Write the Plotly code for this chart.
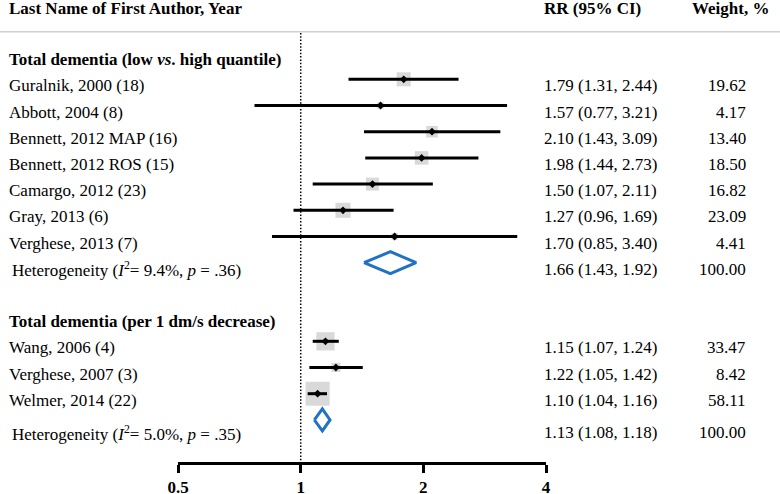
import math
import plotly.graph_objects as go

# ---------------- data ----------------
header_label = "Last Name of First Author, Year"
header_rr = "RR (95% CI)"
header_w = "Weight, %"

group1_title = "Total dementia (low <i>vs</i>. high quantile)"
studies1 = ["Guralnik, 2000 (18)", "Abbott, 2004 (8)", "Bennett, 2012 MAP (16)",
            "Bennett, 2012 ROS (15)", "Camargo, 2012 (23)", "Gray, 2013 (6)",
            "Verghese, 2013 (7)"]
rr1 = [1.79, 1.57, 2.10, 1.98, 1.50, 1.27, 1.70]
lo1 = [1.31, 0.77, 1.43, 1.44, 1.07, 0.96, 0.85]
hi1 = [2.44, 3.21, 3.09, 2.73, 2.11, 1.69, 3.40]
w1 = [19.62, 4.17, 13.40, 18.50, 16.82, 23.09, 4.41]
pooled1 = [1.66, 1.43, 1.92]
pooled_w1 = 100.00
i2_1, p_1 = "9.4%", ".36"

group2_title = "Total dementia (per 1 dm/s decrease)"
studies2 = ["Wang, 2006 (4)", "Verghese, 2007 (3)", "Welmer, 2014 (22)"]
rr2 = [1.15, 1.22, 1.10]
lo2 = [1.07, 1.05, 1.04]
hi2 = [1.24, 1.42, 1.16]
w2 = [33.47, 8.42, 58.11]
pooled2 = [1.13, 1.08, 1.18]
pooled_w2 = 100.00
i2_2, p_2 = "5.0%", ".35"

tick_vals = [0.5, 1, 2, 4]
tick_text = ["0.5", "1", "2", "4"]

# ---------------- layout helpers ----------------
W, H = 780, 494
Y0, STEP = 79.3, 26.2
TXT = 6.5
AXIS_Y = 463
X_LEFT, X_RIGHT = 178.1, 546.0

def row(i):
    return Y0 + i * STEP

FONT = "Liberation Serif"
FS = 17
BLUE = "#2272c3"
GRAY = "#c9c9c9"

rows1 = [row(i) for i in range(len(studies1))]
het1_row = row(7)
title2_row = row(9)
rows2 = [row(10 + i) for i in range(len(studies2))]
het2_row = row(13)

fig = go.Figure()

# dotted reference line at RR = 1
fig.add_trace(go.Scatter(x=[1, 1], y=[33, AXIS_Y], mode="lines",
                         line=dict(color="black", width=1.5, dash="1.5px,1.8px"),
                         hoverinfo="skip", showlegend=False))

all_rr = rr1 + rr2
all_lo = lo1 + lo2
all_hi = hi1 + hi2
all_w = w1 + w2
all_y = rows1 + rows2

# weight squares (area proportional to weight)
fig.add_trace(go.Scatter(x=all_rr, y=all_y, mode="markers",
                         marker=dict(symbol="square", color=GRAY,
                                     size=[3.15 * math.sqrt(w) for w in all_w],
                                     line=dict(width=0)),
                         hoverinfo="skip", showlegend=False))
# confidence intervals
cx, cy = [], []
for l, h, y in zip(all_lo, all_hi, all_y):
    cx += [l, h, None]
    cy += [y, y, None]
fig.add_trace(go.Scatter(x=cx, y=cy, mode="lines",
                         line=dict(color="black", width=3),
                         hoverinfo="skip", showlegend=False))
# point estimates
fig.add_trace(go.Scatter(x=all_rr, y=all_y, mode="markers",
                         marker=dict(symbol="diamond", color="black", size=6),
                         hoverinfo="skip", showlegend=False))

# pooled diamonds
for (est, l, h), yc in [(pooled1, het1_row), (pooled2, het2_row)]:
    hh = 11
    fig.add_trace(go.Scatter(x=[l, est, h, est, l], y=[yc, yc - hh, yc, yc + hh, yc],
                             mode="lines", fill="toself", fillcolor="white",
                             line=dict(color=BLUE, width=3),
                             hoverinfo="skip", showlegend=False))

# ---------------- text ----------------
ann = []

def txt(x, y, s, anchor="left", bold=False):
    ann.append(dict(x=x / W, xref="paper", y=y, yref="y", text=s, showarrow=False,
                    xanchor=anchor, yanchor="middle",
                    font=dict(family=FONT, size=FS, color="black",
                              weight="bold" if bold else "normal")))

LX, HX, RRX, WX = 6.5, 10, 541.5, 748

txt(LX, 8, header_label, bold=True)
txt(RRX, 8, header_rr, bold=True)
txt(690, 8, header_w, bold=True)

txt(LX, row(-1) + TXT, group1_title, bold=True)
for s, r, l, h, w, y in zip(studies1, rr1, lo1, hi1, w1, rows1):
    txt(LX, y + TXT, s)
    txt(RRX, y + TXT, f"{r:.2f} ({l:.2f}, {h:.2f})")
    txt(WX, y + TXT, f"{w:.2f}", anchor="right")
txt(HX, het1_row + TXT, f"Heterogeneity (<i>I</i><sup>2</sup>= {i2_1}, <i>p</i> = {p_1})")
txt(RRX, het1_row + TXT, f"{pooled1[0]:.2f} ({pooled1[1]:.2f}, {pooled1[2]:.2f})")
txt(WX, het1_row + TXT, f"{pooled_w1:.2f}", anchor="right")

txt(LX, title2_row + TXT, group2_title, bold=True)
for s, r, l, h, w, y in zip(studies2, rr2, lo2, hi2, w2, rows2):
    txt(LX, y + TXT, s)
    txt(RRX, y + TXT, f"{r:.2f} ({l:.2f}, {h:.2f})")
    txt(WX, y + TXT, f"{w:.2f}", anchor="right")
txt(HX, het2_row + 13, f"Heterogeneity (<i>I</i><sup>2</sup>= {i2_2}, <i>p</i> = {p_2})")
txt(RRX, het2_row + 13, f"{pooled2[0]:.2f} ({pooled2[1]:.2f}, {pooled2[2]:.2f})")
txt(WX, het2_row + 13, f"{pooled_w2:.2f}", anchor="right")

fig.update_layout(
    width=W, height=H, margin=dict(l=0, r=0, t=0, b=0, pad=0, autoexpand=False),
    autosize=False,
    paper_bgcolor="white", plot_bgcolor="white",
    showlegend=False, annotations=ann,
    shapes=[dict(type="line", xref="paper", yref="y", x0=0, x1=1, y0=31.7, y1=31.7,
                 line=dict(color="#cfcfcf", width=1.5))],
    xaxis=dict(type="log", range=[math.log10(0.5), math.log10(4)],
               domain=[X_LEFT / W, X_RIGHT / W], anchor="free",
               position=(H - AXIS_Y) / H, automargin=False,
               showline=True, linecolor="black", linewidth=3,
               ticks="outside", ticklen=8, tickwidth=3, tickcolor="black",
               tickvals=tick_vals, ticktext=tick_text,
               tickfont=dict(family=FONT, size=FS, color="black", weight="bold"),
               showgrid=False, zeroline=False),
    yaxis=dict(range=[H, 0], domain=[0, 1], visible=False, automargin=False,
               showgrid=False, zeroline=False),
)

fig.write_html("out.html", config={"responsive": False, "displayModeBar": False},
               post_script="document.body.style.margin='0';document.body.style.overflow='hidden';")
